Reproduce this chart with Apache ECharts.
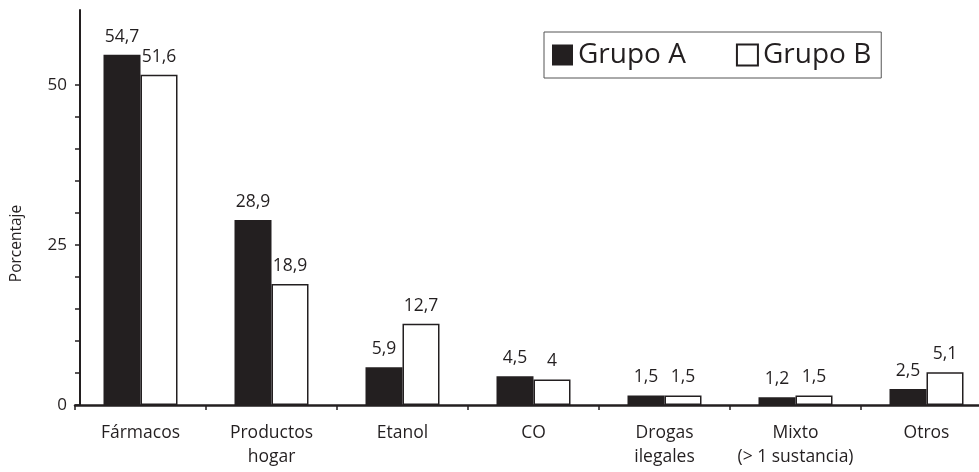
<!DOCTYPE html>
<html>
<head>
<meta charset="utf-8">
<script src="https://cdn.jsdelivr.net/npm/echarts@6/dist/echarts.min.js"></script>
<style>
  html, body { margin: 0; padding: 0; background: #fff; }
  #chart { width: 979px; height: 472px; }
</style>
</head>
<body>
<div id="chart"></div>
<script>
  // datos
  var categorias = ['Fármacos', 'Productos\nhogar', 'Etanol', 'CO', 'Drogas\nilegales', 'Mixto\n(> 1 sustancia)', 'Otros'];
  var grupoA = [54.7, 28.9, 5.9, 4.5, 1.5, 1.2, 2.5];
  var grupoB = [51.6, 18.9, 12.7, 4, 1.5, 1.5, 5.1];
  var marcasY = [0, 25, 50];
  var ticksY = [0, 5, 10, 15, 20, 25, 30, 35, 40, 45, 50];

  var negro = '#231f20';
  var fuente = '"Open Sans", "Noto Sans", sans-serif';

  function coma(p) {
    return String(p.value).replace('.', ',');
  }

  var myChart = echarts.init(document.getElementById('chart'));
  var option = {
    animation: false,
    textStyle: { fontFamily: fuente, color: negro },
    grid: { left: 75, right: -13, top: 10, bottom: 67, outerBoundsMode: 'none' },
    legend: {
      left: 544,
      top: 32,
      padding: [9, 10, 9, 8],
      borderColor: '#555',
      borderWidth: 1,
      itemWidth: 21,
      itemHeight: 21,
      itemGap: 50,
      textStyle: { fontSize: 28, color: negro, fontFamily: fuente },
      data: [
        { name: 'Grupo A', icon: 'rect' },
        { name: 'Grupo B', icon: 'rect' }
      ]
    },
    xAxis: {
      type: 'category',
      data: categorias,
      axisLine: { lineStyle: { color: negro, width: 2.5 } },
      axisTick: { show: true, length: 5, lineStyle: { color: negro, width: 1.5 } },
      axisLabel: { interval: 0, color: negro, fontSize: 17.5, lineHeight: 24, margin: 16, fontFamily: fuente }
    },
    yAxis: {
      type: 'value',
      min: 0,
      max: 61.7,
      offset: -5,
      name: 'Porcentaje',
      nameLocation: 'middle',
      nameGap: 55,
      nameTextStyle: { fontSize: 15.5, color: negro, fontFamily: fuente, padding: [0, 72, 0, 0] },
      splitLine: { show: false },
      axisLine: { show: true, lineStyle: { color: negro, width: 2 } },
      axisTick: { show: true, length: 5, customValues: ticksY, lineStyle: { color: negro, width: 1.5 } },
      axisLabel: { customValues: marcasY, color: negro, fontSize: 17, margin: 13, fontFamily: fuente }
    },
    series: [
      {
        name: 'Grupo A',
        type: 'bar',
        data: grupoA,
        barWidth: 37,
        barGap: '0%',
        itemStyle: { color: negro },
        label: { show: true, position: 'top', distance: 9, formatter: coma, fontSize: 17.5, color: negro, fontFamily: fuente }
      },
      {
        name: 'Grupo B',
        type: 'bar',
        data: grupoB,
        barWidth: 37,
        itemStyle: { color: '#ffffff', borderColor: negro, borderWidth: 1.5 },
        label: { show: true, position: 'top', distance: 9, formatter: coma, fontSize: 17.5, color: negro, fontFamily: fuente }
      }
    ]
  };
  myChart.setOption(option, true);
</script>
</body>
</html>
